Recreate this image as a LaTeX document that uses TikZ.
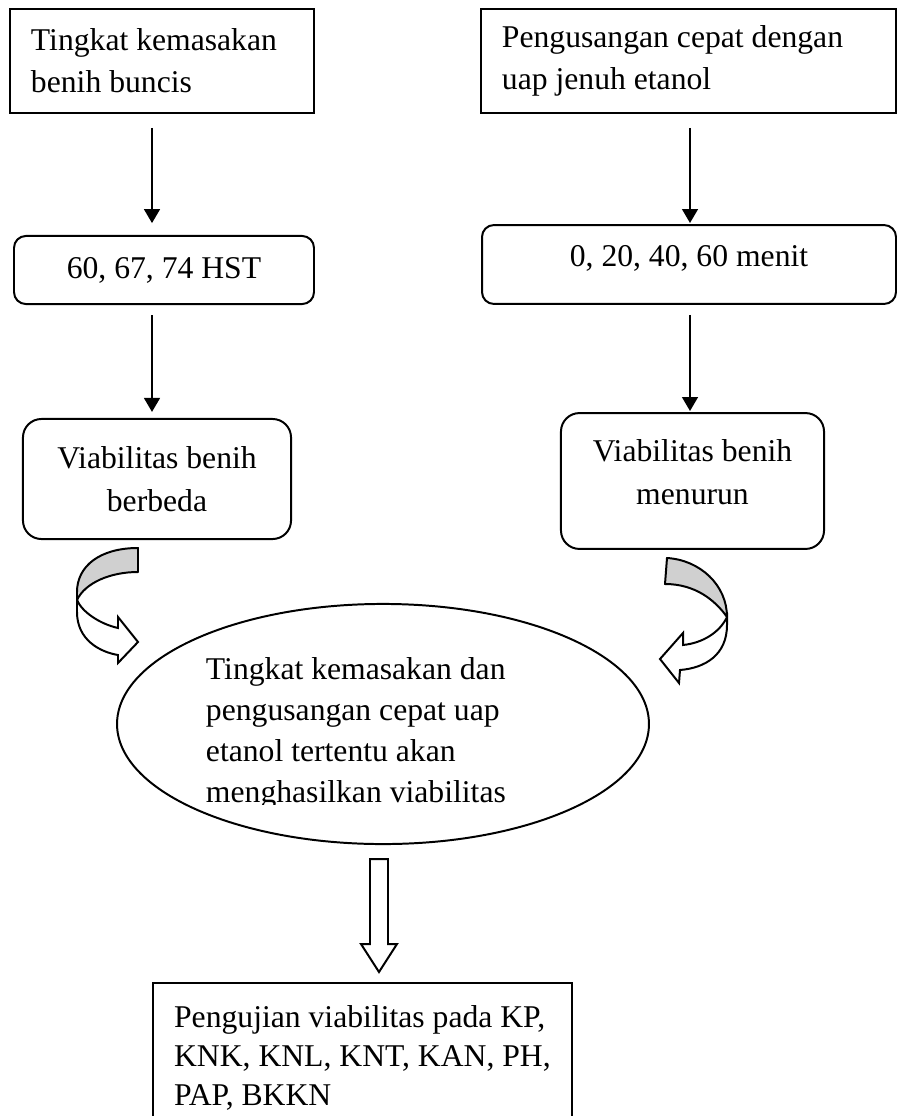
\documentclass[tikz,border=0pt]{standalone}
\usepackage{fontspec}
\setmainfont{Liberation Serif}
\usetikzlibrary{positioning,arrows.meta,shapes.geometric,calc}

\definecolor{bandgray}{RGB}{208,208,208}
\tikzset{
    sqbox/.style={draw, rectangle, align=flush left, inner xsep=8pt, inner ysep=0pt, font=\fontsize{12}{15.8}\selectfont},
    rndbox/.style={draw, rectangle, rounded corners=4.5pt, align=center, inner sep=0pt, font=\fontsize{12}{16.5}\selectfont},
    down/.style={-{Triangle[length=5.3pt,width=6pt]}},
    backband/.style={line join=round, fill=bandgray},
    frontband/.style={line join=miter, fill=white},
}

\begin{document}
\begin{tikzpicture}[x=0.379pt, y=-0.379pt, line width=0.75pt]
    \clip (0,0) rectangle (897,1116);

    \node[sqbox, text width=99.3pt, minimum height=39.4pt] (tingkat) at (162,61) {Tingkat kemasakan\\benih buncis};
    \node[sqbox, text width=141.4pt, minimum height=39.4pt] (usang) at (688.5,61) {Pengusangan cepat dengan\\uap jenuh etanol};
    \node[rndbox, minimum width=113.7pt, minimum height=25.8pt] (hst) at (164,270) {60, 67, 74 HST};
    \node[rndbox, text depth=6.3pt, minimum width=156.9pt, minimum height=29.9pt] (menit) at (689,264.5) {0, 20, 40, 60 menit};
    \node[rndbox, rounded corners=7pt, minimum width=101.6pt, minimum height=45.5pt] (beda) at (157,479) {Viabilitas benih\\berbeda};
    \node[rndbox, rounded corners=7pt, text depth=6.8pt, minimum width=99.7pt, minimum height=51.5pt] (turun) at (692.5,481) {Viabilitas benih\\menurun};

    \node[draw, ellipse, minimum width=201.6pt, minimum height=91pt, inner sep=0pt] (hasil) at (383,724) {};
    \begin{scope}
        \clip (0,0) rectangle (897,804);
        \node[align=flush left, inner sep=0pt, anchor=north west, font=\fontsize{12}{15.5}\selectfont] (hasiltxt) at (205,656.5) {Tingkat kemasakan dan\\pengusangan cepat uap\\etanol tertentu akan\\menghasilkan viabilitas};
    \end{scope}

    \node[sqbox, inner ysep=8.5pt, minimum width=158.5pt, anchor=north west, font=\fontsize{12}{14.8}\selectfont] (uji) at (152,982) {Pengujian viabilitas pada KP,\\KNK, KNL, KNT, KAN, PH,\\PAP, BKKN};

    \coordinate (lx) at (152,0);
    \coordinate (rx) at (690,0);
    \draw[down, shorten <=5.3pt, shorten >=4.5pt] (tingkat.south -| lx) -- (hst.north -| lx);
    \draw[down, shorten <=3.8pt, shorten >=2.3pt] (hst.south -| lx) -- (beda.north -| lx);
    \draw[down, shorten <=5.3pt, shorten >=0.4pt] (usang.south -| rx) -- (menit.north -| rx);
    \draw[down, shorten <=3.8pt, shorten >=0.4pt] (menit.south -| rx) -- (turun.north -| rx);

    \draw[backband] (138,548) .. controls (100,548) and (77,566) .. (77,592) -- (77,600) .. controls (85,583) and (110,572) .. (138,572) -- cycle;
    \draw[frontband] (77,600) -- (77,612) .. controls (77,640) and (100,652) .. (118,655) -- (118,663) -- (138,642) -- (118,617) -- (118,628) .. controls (100,624) and (82,612) .. (77,600) -- cycle;

    \draw[backband] (667,558) .. controls (700,560) and (727,585) .. (727,617) .. controls (715,600) and (695,584) .. (665,584) -- cycle;
    \draw[frontband] (727,617) -- (727,625) .. controls (727,655) and (705,668) .. (680,670) -- (679,683) -- (660,659) -- (683,633) -- (683,645) .. controls (703,643) and (720,632) .. (727,617) -- cycle;

    \coordinate (dn) at (379,859);
    \draw[frontband] (dn) ++(-9,0) -- ++(0,85) -- ++(-9,0) -- ++(18,28) -- ++(18,-28) -- ++(-9,0) -- ++(0,-85) -- cycle;
\end{tikzpicture}
\end{document}
